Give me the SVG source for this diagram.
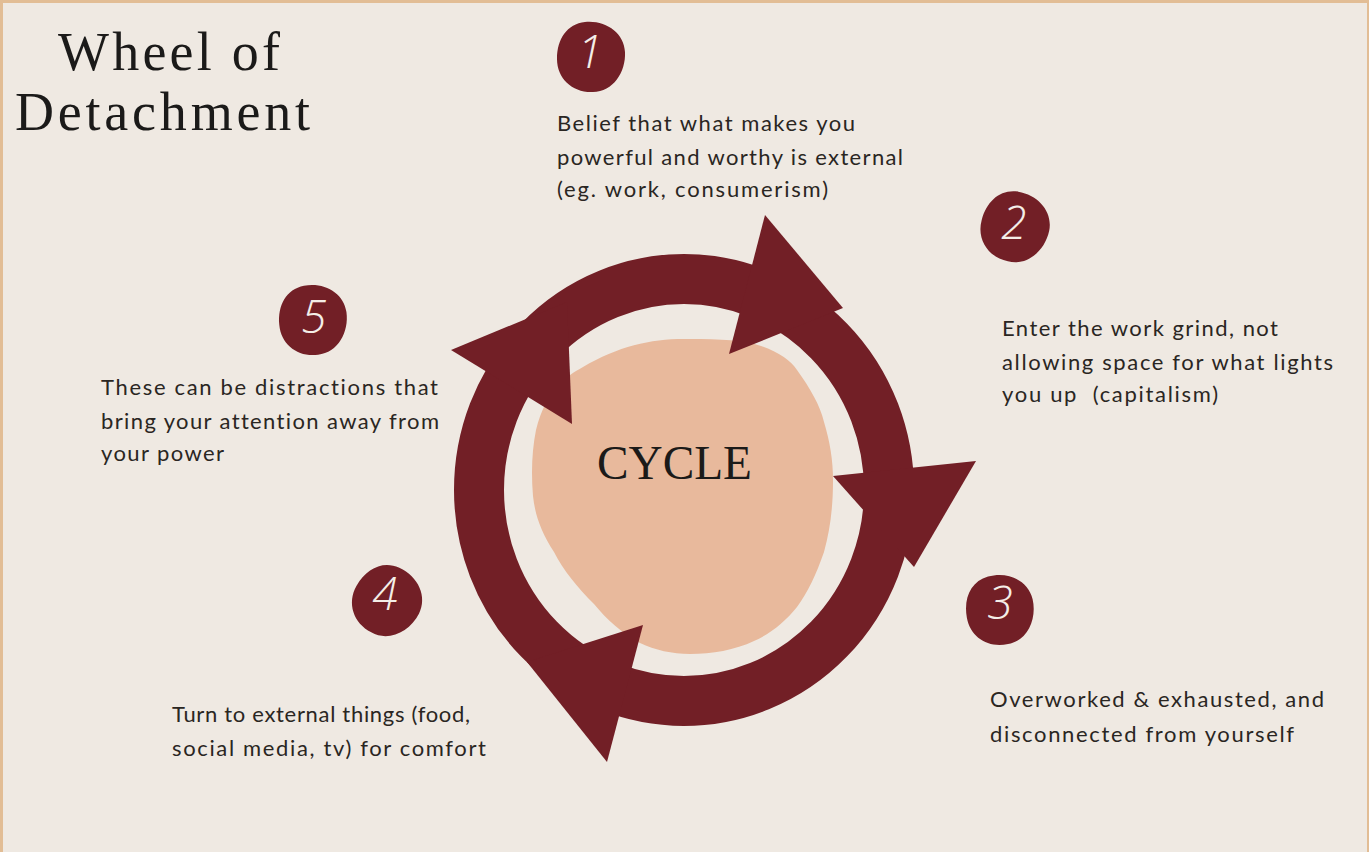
<svg xmlns="http://www.w3.org/2000/svg" xmlns:xlink="http://www.w3.org/1999/xlink" width="1369" height="852" viewBox="0 0 1369 852">
  <style>
    .body { font-family: Lato, "Liberation Sans", sans-serif; font-size: 22px; fill: #2a2622; font-variant-ligatures: none; }
    .serif { font-family: "Liberation Serif", "DejaVu Serif", serif; fill: #1b1a19; }
    .digit { font-family: "Open Sans", "DejaVu Sans", sans-serif; font-weight: 300; font-style: italic; font-size: 46px; fill: #f4eee8; text-anchor: middle; }
    .maroon { fill: #721f26; }
  </style>
  <defs>
    <!-- organic badge shape behind each step number -->
    <path id="badge" d="M -6,-35 C 15,-37 33,-24 34,-5 C 35,15 22,35 2,35 C -18,36 -34,22 -34,2 C -34,-18 -24,-33 -6,-35 Z"/>
  </defs>

  <!-- page frame -->
  <rect x="0" y="0" width="1369" height="852" fill="#e2bd95"/>
  <rect x="3" y="3" width="1364" height="849" fill="#efe9e2"/>

  <!-- title -->
  <g id="title" class="serif" font-size="54">
    <text x="58" y="70" textLength="222" lengthAdjust="spacing">Wheel of</text>
    <text x="15" y="130" textLength="295" lengthAdjust="spacing">Detachment</text>
  </g>

  <!-- hub: peach blob with the word CYCLE -->
  <g id="hub">
    <path fill="#e8b99c" d="M 583,367 C 620,345 655,338 690,339 C 720,339 745,340 761,346 C 780,353 790,360 797,370 C 810,388 820,405 824,422 C 830,442 833,460 833,481 C 833,508 830,530 824,552 C 816,575 808,592 797,607 C 785,622 770,634 754,641 C 735,650 712,654 690,654 C 672,654 655,650 640,643 C 622,633 607,620 594,604 C 578,588 563,570 554,552 C 541,532 535,515 533,496 C 531,472 532,450 536,430 C 541,410 548,397 558,385 C 566,377 574,372 583,367 Z"/>
    <text class="serif" x="597" y="479" font-size="48" textLength="155" lengthAdjust="spacingAndGlyphs">CYCLE</text>
  </g>

  <!-- circular arrows of the cycle -->
  <g id="connectors" class="maroon">
    <ellipse cx="684" cy="490" rx="205" ry="211" fill="none" stroke="#721f26" stroke-width="50"/>
    <polygon points="765,215 729,354 843,308"/>
    <polygon points="976,461 833,476 914,567"/>
    <polygon points="607,762 643,625 527,662"/>
    <polygon points="451,350 572,424 567,302"/>
  </g>

  <!-- step 1 -->
  <g id="step-1">
    <use xlink:href="#badge" class="maroon" transform="translate(591,57)"/>
    <text class="digit" x="590" y="68">1</text>
    <g class="body">
      <text x="557" y="131" textLength="298" lengthAdjust="spacing">Belief that what makes you</text>
      <text x="557" y="165" textLength="346" lengthAdjust="spacing">powerful and worthy is external</text>
      <text x="557" y="197" textLength="271" lengthAdjust="spacing">(eg. work, consumerism)</text>
    </g>
  </g>

  <!-- step 2 -->
  <g id="step-2">
    <use xlink:href="#badge" class="maroon" transform="translate(1015,227) rotate(15)"/>
    <text class="digit" x="1014" y="239">2</text>
    <g class="body">
      <text x="1002" y="336" textLength="276" lengthAdjust="spacing">Enter the work grind, not</text>
      <text x="1002" y="370" textLength="331" lengthAdjust="spacing">allowing space for what lights</text>
      <text x="1002" y="402" textLength="216" lengthAdjust="spacing" xml:space="preserve">you up  (capitalism)</text>
    </g>
  </g>

  <!-- step 3 -->
  <g id="step-3">
    <use xlink:href="#badge" class="maroon" transform="translate(1000,610) rotate(-10)"/>
    <text class="digit" x="1000" y="619">3</text>
    <g class="body">
      <text x="990" y="707" textLength="334" lengthAdjust="spacing">Overworked &amp; exhausted, and</text>
      <text x="990" y="742" textLength="304" lengthAdjust="spacing">disconnected from yourself</text>
    </g>
  </g>

  <!-- step 4 -->
  <g id="step-4">
    <use xlink:href="#badge" class="maroon" transform="translate(387,601) rotate(30)"/>
    <text class="digit" x="385" y="610">4</text>
    <g class="body">
      <text x="172" y="722" textLength="298" lengthAdjust="spacing">Turn to external things (food,</text>
      <text x="172" y="756" textLength="314" lengthAdjust="spacing">social media, tv) for comfort</text>
    </g>
  </g>

  <!-- step 5 -->
  <g id="step-5">
    <use xlink:href="#badge" class="maroon" transform="translate(313,320) rotate(-5)"/>
    <text class="digit" x="314" y="333">5</text>
    <g class="body">
      <text x="101" y="395" textLength="337" lengthAdjust="spacing">These can be distractions that</text>
      <text x="101" y="429" textLength="338" lengthAdjust="spacing">bring your attention away from</text>
      <text x="101" y="461" textLength="123" lengthAdjust="spacing">your power</text>
    </g>
  </g>
</svg>
